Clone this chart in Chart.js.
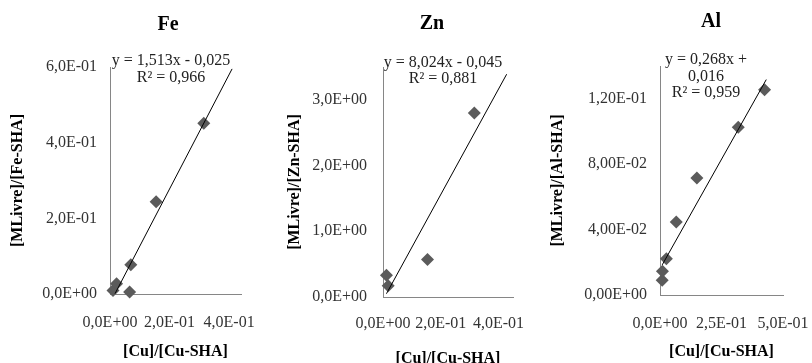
<!DOCTYPE html>
<html lang="pt">

<head>
    <meta charset="UTF-8">
    <title>Fe, Zn, Al</title>
    <script src="https://cdn.jsdelivr.net/npm/chart.js"></script>
    <style>
        * {
            margin: 0;
            padding: 0;
        }

        body {
            background-color: #fff;
        }

        #wrap {
            position: relative;
            width: 812px;
            height: 363px;
        }

        canvas {
            position: absolute;
            top: 0;
        }

        #feChart { left: 0; }
        #znChart { left: 270px; }
        #alChart { left: 540px; }
    </style>
</head>

<body>
    <div id="wrap">
        <canvas id="feChart" width="270" height="363"></canvas>
        <canvas id="znChart" width="270" height="363"></canvas>
        <canvas id="alChart" width="272" height="363"></canvas>
    </div>

    <script>
        // values
        const feX = [0.010, 0.022, 0.066, 0.070, 0.155, 0.315];
        const feY = [0.009, 0.027, 0.005, 0.077, 0.244, 0.451];
        const feFitX = [0.017, 0.410];
        const feFitY = [0.001, 0.595];
        const feYTicks = [0, 0.2, 0.4, 0.6];
        const feYLabels = ['0,0E+00', '2,0E-01', '4,0E-01', '6,0E-01'];
        const feXTicks = [0, 0.2, 0.4];
        const feXLabels = ['0,0E+00', '2,0E-01', '4,0E-01'];

        const znX = [0.012, 0.018, 0.154, 0.316];
        const znY = [0.33, 0.17, 0.57, 2.80];
        const znFitX = [0.012, 0.428];
        const znFitY = [0.05, 3.39];
        const znYTicks = [0, 1, 2, 3];
        const znYLabels = ['0,0E+00', '1,0E+00', '2,0E+00', '3,0E+00'];
        const znXTicks = [0, 0.2, 0.4];
        const znXLabels = ['0,0E+00', '2,0E-01', '4,0E-01'];

        const alX = [0.009, 0.010, 0.026, 0.066, 0.150, 0.318, 0.425];
        const alY = [0.0090, 0.0145, 0.0222, 0.0447, 0.0715, 0.1025, 0.1255];
        const alFitX = [0.009, 0.432];
        const alFitY = [0.0184, 0.1317];
        const alYTicks = [0, 0.04, 0.08, 0.12];
        const alYLabels = ['0,00E+00', '4,00E-02', '8,00E-02', '1,20E-01'];
        const alXTicks = [0, 0.25, 0.5];
        const alXLabels = ['0,0E+00', '2,5E-01', '5,0E-01'];

        const serif = '"Liberation Serif", "Times New Roman", serif';
        const textColor = '#333';
        const axisColor = '#868686';

        // title + trendline equation, drawn on top of the chart
        const panelText = {
            id: 'panelText',
            afterDraw(chart, args, opts) {
                const ctx = chart.ctx;
                ctx.save();
                ctx.textAlign = 'center';
                ctx.textBaseline = 'middle';
                ctx.fillStyle = '#000';
                ctx.font = 'bold 20px ' + serif;
                ctx.fillText(opts.title, opts.titleX, opts.titleY);
                ctx.font = '16px ' + serif;
                ctx.fillStyle = '#222';
                opts.lines.forEach(function (t, i) {
                    ctx.fillText(t, opts.eqX, opts.eqY + i * 16.6);
                });
                ctx.restore();
            }
        };

        function toPoints(xs, ys) {
            return xs.map(function (x, i) { return { x: x, y: ys[i] }; });
        }

        function makeChart(id, p) {
            const config = {
                type: 'scatter',
                data: {
                    datasets: [{
                        type: 'line',
                        data: toPoints(p.fitX, p.fitY),
                        borderColor: '#000',
                        borderWidth: 1,
                        pointRadius: 0,
                        fill: false,
                        clip: false
                    }, {
                        data: toPoints(p.x, p.y),
                        pointStyle: 'rectRot',
                        pointRadius: 6.5,
                        pointHoverRadius: 6.5,
                        backgroundColor: '#5b5b5b',
                        borderWidth: 0,
                        clip: false
                    }]
                },
                options: {
                    responsive: false,
                    animation: false,
                    layout: { padding: p.pad },
                    plugins: {
                        legend: { display: false },
                        tooltip: { enabled: false },
                        panelText: p.text
                    },
                    scales: {
                        x: {
                            type: 'linear',
                            min: 0,
                            max: p.xMax,
                            grid: { display: false, drawTicks: false },
                            border: { display: true, color: axisColor, width: 1 },
                            ticks: {
                                font: { family: serif, size: 16 },
                                color: textColor,
                                padding: p.xTickPad,
                                autoSkip: false,
                                maxRotation: 0,
                                callback: function (v, i) { return p.xLabels[i]; }
                            },
                            afterBuildTicks: function (s) {
                                s.ticks = p.xTicks.map(function (v) { return { value: v }; });
                            },
                            afterFit: function (s) {
                                s.height = p.xHeight;
                                s.paddingLeft = 0;
                                s.paddingRight = 0;
                            },
                            title: {
                                display: true,
                                text: '[Cu]/[Cu-SHA]',
                                font: { family: serif, size: 16, weight: 'bold' },
                                color: '#000',
                                padding: { top: 0, bottom: p.xTitlePad }
                            }
                        },
                        y: {
                            type: 'linear',
                            min: 0,
                            max: p.yMax,
                            grid: { display: false, drawTicks: false },
                            border: { display: true, color: axisColor, width: 1 },
                            ticks: {
                                font: { family: serif, size: 16 },
                                color: textColor,
                                padding: p.yTickPad,
                                autoSkip: false,
                                callback: function (v, i) { return p.yLabels[i]; }
                            },
                            afterBuildTicks: function (s) {
                                s.ticks = p.yTicks.map(function (v) { return { value: v }; });
                            },
                            afterFit: function (s) {
                                s.width = p.yWidth;
                                s.paddingTop = 0;
                                s.paddingBottom = 0;
                            },
                            title: {
                                display: true,
                                text: p.yTitle,
                                font: { family: serif, size: 16, weight: 'bold' },
                                color: '#000',
                                padding: 0
                            }
                        }
                    }
                },
                plugins: [panelText]
            };
            return new Chart(document.getElementById(id), config);
        }

        makeChart('feChart', {
            x: feX, y: feY, fitX: feFitX, fitY: feFitY,
            xTicks: feXTicks, xLabels: feXLabels, yTicks: feYTicks, yLabels: feYLabels,
            xMax: 0.44, yMax: 0.6,
            yTitle: '[MLivre]/[Fe-SHA]',
            pad: { left: 8, right: 29, top: 67, bottom: 2 },
            yWidth: 102, xHeight: 67, xTickPad: 19, yTickPad: 13, xTitlePad: 0,
            text: {
                title: 'Fe', titleX: 168, titleY: 24.5,
                lines: ['y = 1,513x - 0,025', 'R² = 0,966'], eqX: 171, eqY: 61
            }
        });

        makeChart('znChart', {
            x: znX, y: znY, fitX: znFitX, fitY: znFitY,
            xTicks: znXTicks, xLabels: znXLabels, yTicks: znYTicks, yLabels: znYLabels,
            xMax: 0.45, yMax: 3.5,
            yTitle: '[MLivre]/[Zn-SHA]',
            pad: { left: 15, right: 27, top: 67, bottom: 0 },
            yWidth: 98, xHeight: 66, xTickPad: 17, yTickPad: 16, xTitlePad: -5,
            text: {
                title: 'Zn', titleX: 162, titleY: 23.5,
                lines: ['y = 8,024x - 0,045', 'R² = 0,881'], eqX: 173, eqY: 62.5
            }
        });

        makeChart('alChart', {
            x: alX, y: alY, fitX: alFitX, fitY: alFitY,
            xTicks: alXTicks, xLabels: alXLabels, yTicks: alYTicks, yLabels: alYLabels,
            xMax: 0.5, yMax: 0.14,
            yTitle: '[MLivre]/[Al-SHA]',
            pad: { left: 8, right: 29, top: 66, bottom: 2 },
            yWidth: 112, xHeight: 66, xTickPad: 19, yTickPad: 13, xTitlePad: 0,
            text: {
                title: 'Al', titleX: 171, titleY: 22,
                lines: ['y = 0,268x +', '0,016', 'R² = 0,959'], eqX: 166, eqY: 60
            }
        });
    </script>
</body>

</html>
